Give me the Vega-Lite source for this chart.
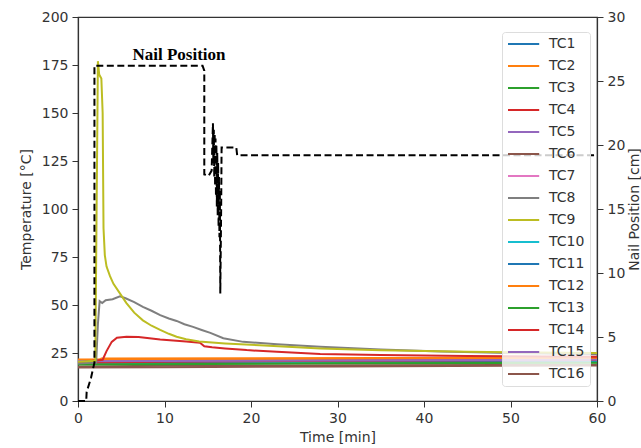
{
  "$schema": "https://vega.github.io/schema/vega-lite/v6.json",
  "width": 519,
  "height": 384,
  "autosize": "none",
  "padding": {"left": 78, "top": 17, "right": 44, "bottom": 47},
  "background": "white",
  "config": {
    "font": "DejaVu Sans",
    "view": {"stroke": "#333", "strokeWidth": 1.2},
    "axis": {
      "grid": false,
      "domainColor": "#333",
      "domainWidth": 1.2,
      "tickColor": "#333",
      "tickSize": 6,
      "labelPadding": 4,
      "labelFontSize": 14,
      "labelColor": "#333",
      "labelFlush": false,
      "titleFontSize": 14,
      "titleFontWeight": "normal",
      "titleColor": "#333"
    }
  },
  "datasets": {
    "temp": [
      {"s": "TC1", "t": 0, "T": 20.6}, {"s": "TC1", "t": 2, "T": 20.6}, {"s": "TC1", "t": 10, "T": 20.9}, {"s": "TC1", "t": 30, "T": 21.2}, {"s": "TC1", "t": 60, "T": 21.4},
      {"s": "TC2", "t": 0, "T": 21.0}, {"s": "TC2", "t": 2.4, "T": 21.1}, {"s": "TC2", "t": 2.7, "T": 22.2}, {"s": "TC2", "t": 20, "T": 22.3}, {"s": "TC2", "t": 60, "T": 22.6},
      {"s": "TC3", "t": 0, "T": 19.3}, {"s": "TC3", "t": 10, "T": 19.5}, {"s": "TC3", "t": 30, "T": 19.9}, {"s": "TC3", "t": 60, "T": 20.2},
      {"s": "TC5", "t": 0, "T": 20.9}, {"s": "TC5", "t": 10, "T": 21.0}, {"s": "TC5", "t": 30, "T": 21.3}, {"s": "TC5", "t": 60, "T": 21.7},
      {"s": "TC6", "t": 0, "T": 18.0}, {"s": "TC6", "t": 10, "T": 18.3}, {"s": "TC6", "t": 30, "T": 18.6}, {"s": "TC6", "t": 60, "T": 18.9},
      {"s": "TC7", "t": 0, "T": 21.2}, {"s": "TC7", "t": 10, "T": 21.3}, {"s": "TC7", "t": 30, "T": 21.5}, {"s": "TC7", "t": 60, "T": 21.8},
      {"s": "TC10", "t": 0, "T": 19.9}, {"s": "TC10", "t": 10, "T": 20.1}, {"s": "TC10", "t": 30, "T": 20.4}, {"s": "TC10", "t": 60, "T": 20.7},
      {"s": "TC11", "t": 0, "T": 20.3}, {"s": "TC11", "t": 10, "T": 20.5}, {"s": "TC11", "t": 30, "T": 20.8}, {"s": "TC11", "t": 60, "T": 21.1},
      {"s": "TC12", "t": 0, "T": 21.6}, {"s": "TC12", "t": 10, "T": 21.8}, {"s": "TC12", "t": 30, "T": 22.0}, {"s": "TC12", "t": 60, "T": 22.3},
      {"s": "TC13", "t": 0, "T": 19.0}, {"s": "TC13", "t": 10, "T": 19.2}, {"s": "TC13", "t": 30, "T": 19.6}, {"s": "TC13", "t": 60, "T": 19.9},
      {"s": "TC14", "t": 0, "T": 20.1}, {"s": "TC14", "t": 10, "T": 20.4}, {"s": "TC14", "t": 30, "T": 20.9}, {"s": "TC14", "t": 60, "T": 21.3},
      {"s": "TC15", "t": 0, "T": 20.7}, {"s": "TC15", "t": 10, "T": 20.8}, {"s": "TC15", "t": 30, "T": 21.1}, {"s": "TC15", "t": 60, "T": 21.5},
      {"s": "TC16", "t": 0, "T": 17.4}, {"s": "TC16", "t": 10, "T": 17.6}, {"s": "TC16", "t": 30, "T": 18.0}, {"s": "TC16", "t": 60, "T": 18.5},
      {"s": "TC4", "t": 0, "T": 20.0}, {"s": "TC4", "t": 2.85, "T": 21.5}, {"s": "TC4", "t": 3.3, "T": 26}, {"s": "TC4", "t": 3.9, "T": 30.8}, {"s": "TC4", "t": 4.5, "T": 33}, {"s": "TC4", "t": 5.6, "T": 33.5}, {"s": "TC4", "t": 7, "T": 33.3}, {"s": "TC4", "t": 8.5, "T": 32.5}, {"s": "TC4", "t": 9.5, "T": 32}, {"s": "TC4", "t": 11, "T": 31.5}, {"s": "TC4", "t": 12.5, "T": 31}, {"s": "TC4", "t": 14.1, "T": 30.3}, {"s": "TC4", "t": 14.6, "T": 28.5}, {"s": "TC4", "t": 15.5, "T": 28}, {"s": "TC4", "t": 17, "T": 27.4}, {"s": "TC4", "t": 19.5, "T": 26.5}, {"s": "TC4", "t": 23, "T": 25.6}, {"s": "TC4", "t": 28, "T": 24.5}, {"s": "TC4", "t": 35, "T": 23.9}, {"s": "TC4", "t": 45, "T": 23.4}, {"s": "TC4", "t": 60, "T": 23.0},
      {"s": "TC8", "t": 0, "T": 19.5}, {"s": "TC8", "t": 2.1, "T": 20}, {"s": "TC8", "t": 2.3, "T": 40}, {"s": "TC8", "t": 2.5, "T": 52}, {"s": "TC8", "t": 2.8, "T": 51}, {"s": "TC8", "t": 3.2, "T": 52.5}, {"s": "TC8", "t": 4, "T": 53}, {"s": "TC8", "t": 4.85, "T": 54.5}, {"s": "TC8", "t": 5.5, "T": 53.5}, {"s": "TC8", "t": 6.5, "T": 51.5}, {"s": "TC8", "t": 7.5, "T": 49}, {"s": "TC8", "t": 8.5, "T": 47}, {"s": "TC8", "t": 9.5, "T": 44.7}, {"s": "TC8", "t": 10.5, "T": 43}, {"s": "TC8", "t": 11.4, "T": 41.7}, {"s": "TC8", "t": 12.3, "T": 40}, {"s": "TC8", "t": 13.3, "T": 38.6}, {"s": "TC8", "t": 14.3, "T": 37}, {"s": "TC8", "t": 15.3, "T": 35.5}, {"s": "TC8", "t": 16.8, "T": 32.7}, {"s": "TC8", "t": 19.1, "T": 30.8}, {"s": "TC8", "t": 23, "T": 29.6}, {"s": "TC8", "t": 28, "T": 28.2}, {"s": "TC8", "t": 35, "T": 26.8}, {"s": "TC8", "t": 42, "T": 25.8}, {"s": "TC8", "t": 50, "T": 25.0}, {"s": "TC8", "t": 60, "T": 24.4},
      {"s": "TC9", "t": 0, "T": 20.5}, {"s": "TC9", "t": 2.0, "T": 21}, {"s": "TC9", "t": 2.15, "T": 100}, {"s": "TC9", "t": 2.3, "T": 177}, {"s": "TC9", "t": 2.45, "T": 170}, {"s": "TC9", "t": 2.7, "T": 168}, {"s": "TC9", "t": 2.85, "T": 150}, {"s": "TC9", "t": 2.95, "T": 90}, {"s": "TC9", "t": 3.1, "T": 76}, {"s": "TC9", "t": 3.3, "T": 70}, {"s": "TC9", "t": 3.7, "T": 65}, {"s": "TC9", "t": 4.1, "T": 61}, {"s": "TC9", "t": 5, "T": 55}, {"s": "TC9", "t": 5.6, "T": 51}, {"s": "TC9", "t": 6.5, "T": 46}, {"s": "TC9", "t": 7.5, "T": 42}, {"s": "TC9", "t": 8.5, "T": 39.2}, {"s": "TC9", "t": 9.5, "T": 37}, {"s": "TC9", "t": 10.5, "T": 35}, {"s": "TC9", "t": 11.4, "T": 33.5}, {"s": "TC9", "t": 12.5, "T": 32.2}, {"s": "TC9", "t": 14, "T": 31}, {"s": "TC9", "t": 17, "T": 30}, {"s": "TC9", "t": 21, "T": 29}, {"s": "TC9", "t": 28, "T": 27.4}, {"s": "TC9", "t": 35, "T": 26.4}, {"s": "TC9", "t": 45, "T": 25.6}, {"s": "TC9", "t": 60, "T": 25.0}
    ],
    "nail": [
      {"i": 1, "t": 0, "cm": 0}, {"i": 2, "t": 0.95, "cm": 0}, {"i": 3, "t": 1.0, "cm": 0.7}, {"i": 4, "t": 1.5, "cm": 1.8}, {"i": 5, "t": 1.9, "cm": 3.0},
      {"i": 6, "t": 1.9, "cm": 26.2}, {"i": 7, "t": 14.4, "cm": 26.2}, {"i": 8, "t": 14.6, "cm": 25.8}, {"i": 9, "t": 14.6, "cm": 17.7}, {"i": 10, "t": 15.1, "cm": 17.6},
      {"i": 11, "t": 15.45, "cm": 18.0}, {"i": 12, "t": 15.6, "cm": 21.7}, {"i": 13, "t": 15.65, "cm": 18.5}, {"i": 14, "t": 15.7, "cm": 21.2}, {"i": 15, "t": 15.75, "cm": 17.5},
      {"i": 16, "t": 15.8, "cm": 20.9}, {"i": 17, "t": 15.85, "cm": 16.8}, {"i": 18, "t": 15.9, "cm": 20.5}, {"i": 19, "t": 15.95, "cm": 16.0}, {"i": 20, "t": 16.0, "cm": 20.0},
      {"i": 21, "t": 16.05, "cm": 15.2}, {"i": 22, "t": 16.1, "cm": 19.4}, {"i": 23, "t": 16.15, "cm": 14.5}, {"i": 24, "t": 16.2, "cm": 18.6}, {"i": 25, "t": 16.25, "cm": 13.6},
      {"i": 26, "t": 16.3, "cm": 17.5}, {"i": 27, "t": 16.35, "cm": 12.8}, {"i": 28, "t": 16.4, "cm": 16.5}, {"i": 29, "t": 16.45, "cm": 8.4}, {"i": 30, "t": 16.55, "cm": 15.0},
      {"i": 31, "t": 16.6, "cm": 19.8}, {"i": 32, "t": 18.3, "cm": 19.8}, {"i": 33, "t": 18.4, "cm": 19.2}, {"i": 34, "t": 60, "cm": 19.2}
    ]
  },
  "layer": [
    {
      "data": {"name": "temp"},
      "mark": {"type": "line", "strokeWidth": 2},
      "encoding": {
        "x": {"field": "t", "type": "quantitative", "scale": {"domain": [0, 60], "nice": false},
              "axis": {"values": [0, 10, 20, 30, 40, 50, 60], "title": "Time [min]", "titleY": 36, "titleBaseline": "middle"}},
        "y": {"field": "T", "type": "quantitative", "scale": {"domain": [0, 200], "nice": false},
              "axis": {"orient": "left", "values": [0, 25, 50, 75, 100, 125, 150, 175, 200], "title": "Temperature [°C]",
                       "titleAngle": 270, "titleX": -52, "titleY": 192, "titleAlign": "center", "titleBaseline": "middle"}},
        "color": {"field": "s", "type": "nominal",
                  "scale": {"domain": ["TC1","TC2","TC3","TC4","TC5","TC6","TC7","TC8","TC9","TC10","TC11","TC12","TC13","TC14","TC15","TC16"],
                            "range": ["#1f77b4","#ff7f0e","#2ca02c","#d62728","#9467bd","#8c564b","#e377c2","#7f7f7f","#bcbd22","#17becf","#1f77b4","#ff7f0e","#2ca02c","#d62728","#9467bd","#8c564b"]},
                  "legend": {"title": null, "orient": "none", "legendX": 424, "legendY": 15,
                             "padding": 5, "fillColor": "rgba(255,255,255,0.8)", "strokeColor": "#dddddd", "cornerRadius": 3,
                             "symbolType": "M-1,0L4.2,0", "symbolSize": 144, "symbolStrokeWidth": 2,
                             "labelFontSize": 14, "labelColor": "#333", "labelOffset": 28, "rowPadding": 8}}
      }
    },
    {
      "data": {"name": "nail"},
      "layer": [
        {
          "mark": {"type": "line", "color": "black", "strokeWidth": 2, "strokeDash": [7, 3.5]},
          "encoding": {
            "x": {"field": "t", "type": "quantitative"},
            "y": {"field": "cm", "type": "quantitative", "scale": {"domain": [0, 30], "nice": false},
                  "axis": {"orient": "right", "values": [0, 5, 10, 15, 20, 25, 30], "title": "Nail Position [cm]",
                           "titleAngle": 270, "titleX": 37, "titleY": 192, "titleAlign": "center", "titleBaseline": "middle"}},
            "order": {"field": "i", "type": "quantitative"}
          }
        },
        {
          "data": {"values": [{"t": 11.68, "cm": 27.0, "label": "Nail Position"}]},
          "mark": {"type": "text", "font": "Liberation Serif", "fontWeight": "bold", "fontSize": 17, "color": "black", "baseline": "middle", "align": "center"},
          "encoding": {
            "x": {"field": "t", "type": "quantitative"},
            "y": {"field": "cm", "type": "quantitative"},
            "text": {"field": "label"}
          }
        }
      ]
    }
  ],
  "resolve": {"scale": {"y": "independent"}}
}
